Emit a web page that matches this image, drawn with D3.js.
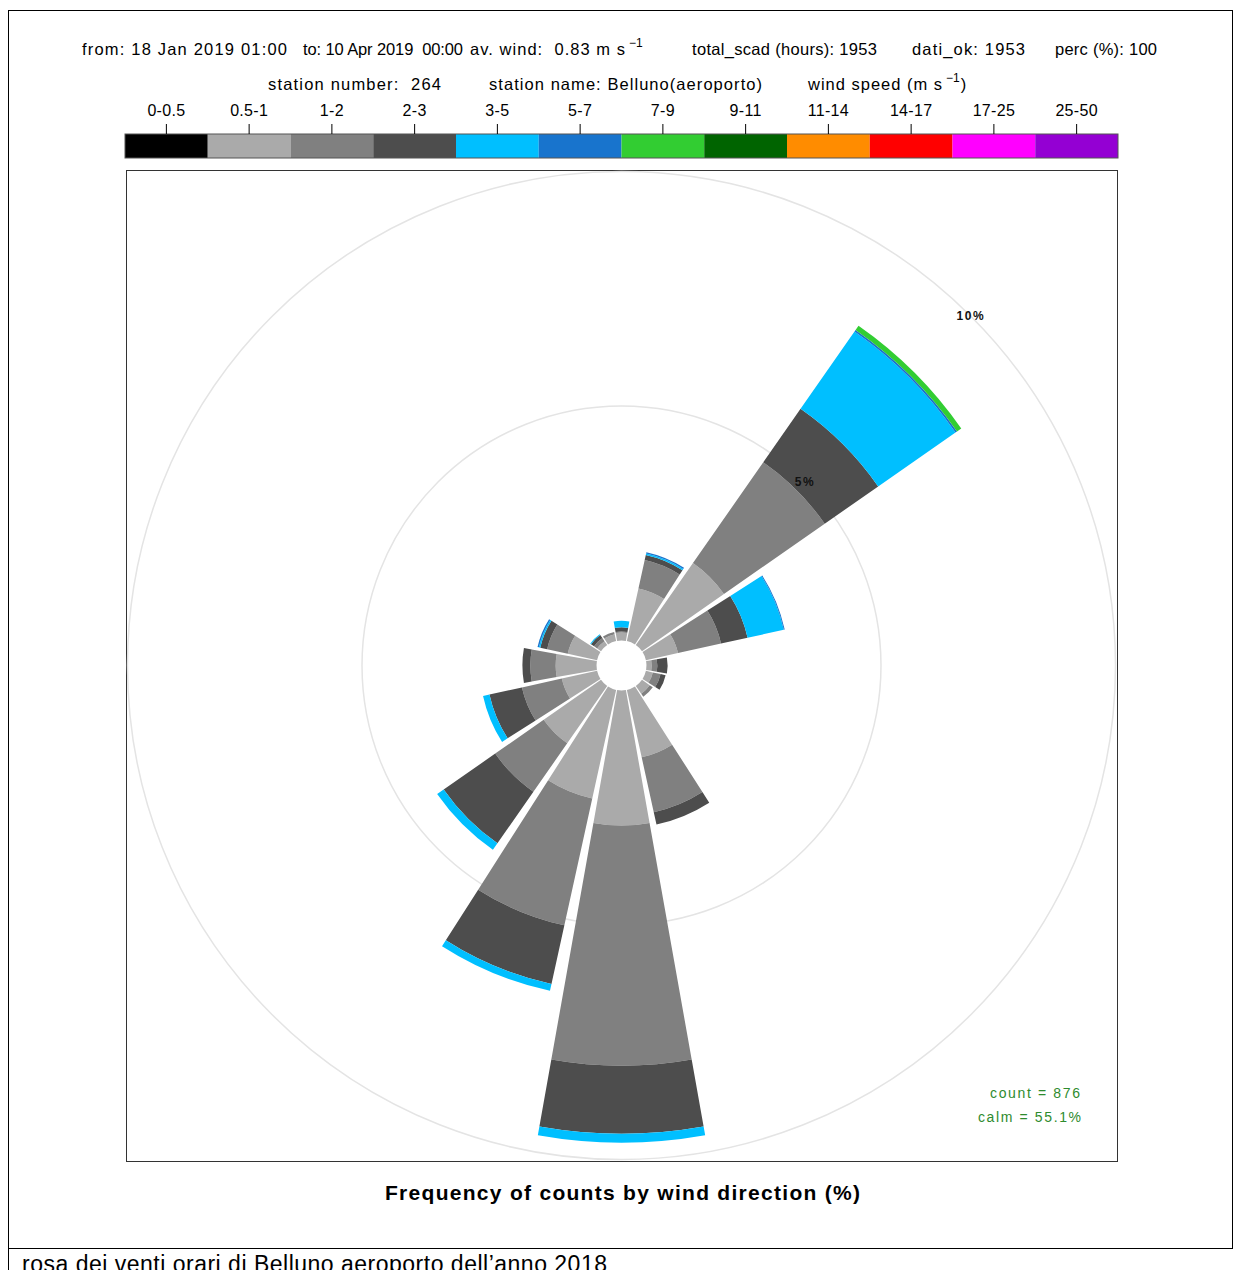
<!DOCTYPE html>
<html>
<head>
<meta charset="utf-8">
<script src="https://cdn.jsdelivr.net/npm/d3@7"></script>
<style>
  body { margin: 0; background: #fff; }
  svg { display: block; }
  text { font-family: "Liberation Sans", Arial, sans-serif; white-space: pre; }
</style>
</head>
<body>
<script>
// ---------------- DATA ----------------
const directions = ["N","NNE","NE","ENE","E","ESE","SE","SSE","S","SSW","SW","WSW","W","WNW","NW","NNW"];
const dirAngles  = [0, 22.5, 45, 67.5, 90, 112.5, 135, 157.5, 180, 202.5, 225, 247.5, 270, 292.5, 315, 337.5];

const speedBins = ["0-0.5","0.5-1","1-2","2-3","3-5","5-7","7-9","9-11","11-14","14-17","17-25","25-50"];
const binColors = ["#000000","#aaaaaa","#808080","#4d4d4d","#00bfff","#1874cd","#32cd32","#006400","#ff8c00","#ff0000","#ff00ff","#9400d3"];

// frequency (%) by direction for each speed bin (order of `directions`)
const freq_0_0p5  = [0,0,0,0,0,0,0,0,0,0,0,0,0,0,0,0];
const freq_0p5_1  = [0.17,1.15,2.13,0.70,0.11,0.15,0.20,1.47,2.88,2.37,1.49,0.77,0.87,0.64,0.10,0.15];
const freq_1_2    = [0.02,0.62,2.62,0.94,0.12,0.17,0.08,1.20,5.12,2.77,1.26,0.87,0.54,0.45,0.08,0.05];
const freq_2_3    = [0.09,0.11,1.39,0.58,0.22,0.11,0.00,0.27,1.45,1.28,1.34,0.71,0.17,0.15,0.08,0.00];
const freq_3_5    = [0.14,0.03,2.01,0.79,0.00,0.00,0.00,0.00,0.19,0.15,0.17,0.14,0.00,0.03,0.02,0.00];
const freq_5_7    = [0,0.03,0.04,0.02,0,0,0,0,0,0,0,0,0,0.03,0,0];
const freq_7_9    = [0,0,0.11,0,0,0,0,0,0,0,0,0,0,0,0,0];
const freq_9_11   = [0,0,0,0,0,0,0,0,0,0,0,0,0,0,0,0];
const freq_11_14  = [0,0,0,0,0,0,0,0,0,0,0,0,0,0,0,0];
const freq_14_17  = [0,0,0,0,0,0,0,0,0,0,0,0,0,0,0,0];
const freq_17_25  = [0,0,0,0,0,0,0,0,0,0,0,0,0,0,0,0];
const freq_25_50  = [0,0,0,0,0,0,0,0,0,0,0,0,0,0,0,0];
const binSeries = [freq_0_0p5,freq_0p5_1,freq_1_2,freq_2_3,freq_3_5,freq_5_7,freq_7_9,freq_9_11,freq_11_14,freq_14_17,freq_17_25,freq_25_50];

const gridLevels = [5, 10];
const gridLabels = ["5%", "10%"];
const countText = "count = 876";
const calmText = "calm = 55.1%";
const titleText = "Frequency of counts by wind direction (%)";
const captionText = "rosa dei venti orari di Belluno aeroporto dell\u2019anno 2018";

// ---------------- LAYOUT ----------------
const W = 1234, H = 1270;
const svg = d3.select("body").append("svg").attr("width", W).attr("height", H);

// outer frame (document cell)
svg.append("rect").attr("x", 8.5).attr("y", 10.5).attr("width", 1224).attr("height", 1238)
  .attr("fill", "none").attr("stroke", "#000").attr("stroke-width", 1);
svg.append("line").attr("x1", 8.5).attr("x2", 8.5).attr("y1", 1248).attr("y2", H)
  .attr("stroke", "#000");

// header
const hdr = svg.append("g").attr("font-size", 16.5).attr("fill", "#000");
function plain(x, y, s, len) {
  return hdr.append("text").attr("x", x).attr("y", y).attr("textLength", len)
    .attr("lengthAdjust", "spacing").text(s);
}
function supText(x, y, before, lenBefore, sup, after) {
  const t = hdr.append("text").attr("x", x).attr("y", y);
  t.append("tspan").attr("textLength", lenBefore).attr("lengthAdjust", "spacing").text(before);
  t.append("tspan").attr("dx", 3).attr("dy", -8).attr("font-size", 12).text(sup);
  if (after) t.append("tspan").attr("dx", 1).attr("dy", 8).text(after);
  return t;
}
plain(82, 55, "from: 18 Jan 2019 01:00", 205);
plain(303, 55, "to: 10 Apr 2019  00:00", 160);
supText(470, 55, "av. wind:  0.83 m s", 155, "\u22121", "");
plain(692, 55, "total_scad (hours): 1953", 185);
plain(912, 55, "dati_ok: 1953", 113);
plain(1055, 55, "perc (%): 100", 102);

plain(268, 90, "station number:  264", 173);
plain(489, 90, "station name: Belluno(aeroporto)", 273);
supText(808, 90, "wind speed (m s", 134, "\u22121", ")");

// colour key
const keyX = d3.scaleBand().domain(speedBins).range([125, 1118]).padding(0);
const key = svg.append("g");
key.selectAll("rect.cell").data(speedBins).join("rect").attr("class", "cell")
  .attr("x", d => keyX(d)).attr("y", 134).attr("width", keyX.bandwidth()).attr("height", 24)
  .attr("fill", (d, i) => binColors[i]);
key.append("rect").attr("x", 125).attr("y", 134).attr("width", 993).attr("height", 24)
  .attr("fill", "none").attr("stroke", "#555").attr("stroke-width", 1);
key.selectAll("line.tick").data(speedBins).join("line").attr("class", "tick")
  .attr("x1", d => keyX(d) + keyX.bandwidth() / 2).attr("x2", d => keyX(d) + keyX.bandwidth() / 2)
  .attr("y1", 124).attr("y2", 134).attr("stroke", "#000");
key.selectAll("text").data(speedBins).join("text")
  .attr("x", d => keyX(d) + keyX.bandwidth() / 2).attr("y", 116)
  .attr("text-anchor", "middle").attr("font-size", 16).attr("letter-spacing", 0.3).text(d => d);

// panel
const cx = 621.5, cy = 665.5;
svg.append("rect").attr("x", 126.5).attr("y", 170.5).attr("width", 991).attr("height", 991)
  .attr("fill", "none").attr("stroke", "#333").attr("stroke-width", 1);

const r = d3.scaleLinear().domain([0, 10]).range([25, 494]);
const plot = svg.append("g").attr("transform", `translate(${cx},${cy})`);

// grid circles
plot.selectAll("circle.grid").data(gridLevels).join("circle").attr("class", "grid")
  .attr("r", d => r(d)).attr("fill", "none").attr("stroke", "#e4e4e4").attr("stroke-width", 1.5);

// wedges
const rows = directions.map((d, i) => {
  const o = { dir: d, angle: dirAngles[i] };
  speedBins.forEach((b, j) => { o[b] = binSeries[j][i]; });
  return o;
});
const stacked = d3.stack().keys(speedBins)(rows);
const half = 10.1 * Math.PI / 180;
const arc = d3.arc();
stacked.forEach((layer, li) => {
  plot.append("g").selectAll("path").data(layer.filter(d => d[1] - d[0] > 0)).join("path")
    .attr("d", d => {
      const a = d.data.angle * Math.PI / 180;
      return arc({ innerRadius: r(d[0]), outerRadius: r(d[1]), startAngle: a - half, endAngle: a + half });
    })
    .attr("fill", binColors[li]);
});

// grid labels at 45 degrees
plot.selectAll("text.glab").data(gridLevels).join("text").attr("class", "glab")
  .attr("x", d => r(d) * Math.SQRT1_2).attr("y", d => -r(d) * Math.SQRT1_2 + 4)
  .attr("text-anchor", "middle").attr("font-size", 12).attr("font-weight", "bold")
  .attr("letter-spacing", 1.5).attr("fill", "#111").text((d, i) => gridLabels[i]);

// count / calm
svg.append("text").attr("x", 990).attr("y", 1098).attr("textLength", 90)
  .attr("font-size", 14).attr("fill", "#2e8b2e").text(countText);
svg.append("text").attr("x", 978).attr("y", 1122).attr("textLength", 103)
  .attr("font-size", 14).attr("fill", "#2e8b2e").text(calmText);

// title
svg.append("text").attr("x", 385).attr("y", 1200).attr("textLength", 475)
  .attr("font-size", 21).attr("font-weight", "bold").text(titleText);

// caption (clipped by the page bottom, as in the original)
svg.append("text").attr("x", 22).attr("y", 1272).attr("font-size", 23)
  .attr("textLength", 585).text(captionText);
</script>
</body>
</html>
